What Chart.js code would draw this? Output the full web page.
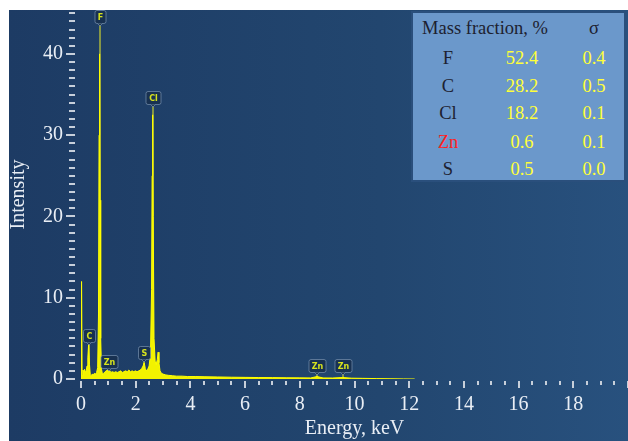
<!DOCTYPE html>
<html><head><meta charset="utf-8">
<script src="https://cdn.jsdelivr.net/npm/chart.js@4/dist/chart.umd.min.js"></script>
<style>
html,body{margin:0;padding:0;background:#fff;}
#wrap{position:relative;width:628px;height:441px;overflow:hidden;}
canvas{position:absolute;left:0;top:0;}
#tbl{position:absolute;left:411px;top:11px;width:211px;height:167px;background:#6b98cb;border:2px solid #2a4f7c;font-family:'Liberation Serif','Times New Roman',serif;font-size:18.5px;color:#1d2130;}
.c{position:absolute;transform:translate(-50%,-50%);white-space:nowrap;line-height:1;}
</style></head><body>
<div id="wrap"><canvas id="c" width="628" height="441"></canvas><div id="tbl"></div></div>
<script>
// ---- data ----
const energy = [0, 0.02, 0.04, 0.07, 0.10, 0.13, 0.16, 0.19, 0.22, 0.25, 0.28, 0.31, 0.34, 0.37, 0.41, 0.45, 0.49, 0.53, 0.57, 0.61, 0.64, 0.66, 0.68, 0.70, 0.72, 0.75, 0.79, 0.83, 0.88, 0.93, 0.98, 1.01, 1.04, 1.09, 1.15, 1.21, 1.27, 1.33, 1.39, 1.45, 1.51, 1.57, 1.63, 1.69, 1.75, 1.81, 1.87, 1.93, 1.99, 2.05, 2.11, 2.17, 2.22, 2.27, 2.31, 2.35, 2.39, 2.44, 2.49, 2.54, 2.58, 2.60, 2.62, 2.64, 2.67, 2.71, 2.75, 2.79, 2.82, 2.85, 2.89, 2.94, 3.0, 3.1, 3.2, 3.35, 3.5, 3.7, 3.9, 4.2, 4.5, 5.0, 5.5, 6.0, 6.5, 7.0, 7.5, 8.0, 8.4, 8.63, 8.85, 9.2, 9.57, 9.9, 10.3, 10.8, 11.3, 11.8, 12.2];
const intensity = [0, 12, 0.4, 1.1, 0.9, 1.2, 0.8, 1.0, 1.6, 2.6, 4.4, 1.8, 0.5, 0.4, 0.6, 0.5, 0.7, 0.6, 0.8, 1.4, 8, 30, 40, 22, 5, 1.2, 0.5, 0.7, 0.9, 1.0, 1.2, 1.3, 1.1, 0.8, 0.9, 0.8, 0.9, 0.8, 0.9, 1.0, 0.8, 0.9, 1.0, 0.9, 1.1, 0.9, 1.0, 0.9, 1.0, 0.9, 1.0, 1.1, 1.3, 1.6, 2.0, 1.3, 1.0, 1.2, 1.6, 3.0, 11, 25, 32.5, 20, 5, 2.2, 1.8, 2.4, 3.3, 2.0, 1.0, 0.7, 0.6, 0.5, 0.45, 0.4, 0.35, 0.35, 0.3, 0.3, 0.28, 0.25, 0.22, 0.2, 0.18, 0.17, 0.15, 0.14, 0.13, 0.3, 0.13, 0.12, 0.18, 0.1, 0.08, 0.05, 0.03, 0.01, 0];
const xTickLabels = [0, 2, 4, 6, 8, 10, 12, 14, 16, 18];
const yTickLabels = [0, 10, 20, 30, 40];
const peakNames = ['C', 'F', 'Zn', 'S', 'Cl', 'Zn', 'Zn'];
const peakEnergies = [0.28, 0.677, 1.01, 2.31, 2.62, 8.63, 9.57];
const peakLabelLevels = [4.6, 43.8, 1.4, 2.4, 33.8, 0.9, 0.9];
const tableElements = ['F', 'C', 'Cl', 'Zn', 'S'];
const tableMass = ['52.4', '28.2', '18.2', '0.6', '0.5'];
const tableSigma = ['0.4', '0.5', '0.1', '0.1', '0.0'];

// ---- table (HTML text) ----
const tbl = document.getElementById('tbl');
function addCell(txt, cx, cy, color) {
  const d = document.createElement('div');
  d.className = 'c'; d.textContent = txt;
  d.style.left = (cx - 413) + 'px'; d.style.top = (cy - 13) + 'px';
  if (color) d.style.color = color;
  tbl.appendChild(d);
}
addCell('Mass fraction, %', 485, 28);
addCell('σ', 594, 28);
const rowY = [58, 86, 113, 142, 169];
tableElements.forEach((el, i) => {
  addCell(el, 448, rowY[i], el === 'Zn' ? '#ff1f1f' : null);
  addCell(tableMass[i], 522, rowY[i], '#ffff3a');
  addCell(tableSigma[i], 594, rowY[i], '#ffff3a');
});

// ---- plugins ----
const bgPlugin = {
  id: 'bg',
  beforeDraw(chart) {
    const ctx = chart.ctx;
    ctx.save();
    ctx.fillStyle = '#ffffff';
    ctx.fillRect(0, 0, chart.width, chart.height);
    const g = ctx.createLinearGradient(9, 0, chart.width, 0);
    g.addColorStop(0, '#1d3b64');
    g.addColorStop(0.6, '#22466f');
    g.addColorStop(1, '#28517e');
    ctx.fillStyle = g;
    ctx.fillRect(9, 10, chart.width - 9, chart.height - 10);
    ctx.restore();
  }
};
const tickPlugin = {
  id: 'ticks',
  afterDraw(chart) {
    const ctx = chart.ctx, xs = chart.scales.x, ys = chart.scales.y;
    ctx.save();
    ctx.strokeStyle = '#c7cfda';
    ctx.lineWidth = 2;
    const yb = chart.chartArea.bottom;
    for (let v = 0; v <= 20; v += 0.5) {
      const px = Math.round(xs.getPixelForValue(v));
      const major = v % 2 === 0;
      ctx.beginPath(); ctx.moveTo(px, yb + 2); ctx.lineTo(px, yb + (major ? 9 : 6)); ctx.stroke();
    }
    for (let v = 0; v <= 45; v += 1) {
      const py = Math.round(ys.getPixelForValue(v));
      const major = v % 10 === 0;
      ctx.beginPath(); ctx.moveTo(major ? 66 : 69, py); ctx.lineTo(75, py); ctx.stroke();
    }
    ctx.restore();
  }
};
const peakPlugin = {
  id: 'peaks',
  beforeDatasetsDraw(chart) {
    const ctx = chart.ctx, xs = chart.scales.x, ys = chart.scales.y;
    ctx.save();
    ctx.strokeStyle = 'rgba(170,180,60,0.75)';
    ctx.lineWidth = 2;
    peakEnergies.forEach((e, i) => {
      const px = Math.round(xs.getPixelForValue(e));
      ctx.beginPath(); ctx.moveTo(px, ys.getPixelForValue(peakLabelLevels[i])); ctx.lineTo(px, ys.getPixelForValue(0)); ctx.stroke();
    });
    ctx.restore();
  },
  afterDatasetsDraw(chart) {
    const ctx = chart.ctx, xs = chart.scales.x, ys = chart.scales.y;
    ctx.save();
    ctx.font = 'bold 8px "DejaVu Sans"';
    peakNames.forEach((n, i) => {
      const px = Math.round(xs.getPixelForValue(peakEnergies[i]));
      const pb = Math.round(ys.getPixelForValue(peakLabelLevels[i]));
      const w = Math.round(ctx.measureText(n).width) + 6, h = 13;
      const x0 = px - w / 2, y0 = pb - h;
      ctx.fillStyle = 'rgba(24,48,80,0.95)';
      ctx.strokeStyle = 'rgba(120,145,175,0.7)';
      ctx.lineWidth = 1;
      ctx.beginPath();
      ctx.roundRect(x0 + 0.5, y0 + 0.5, w, h, 2);
      ctx.fill(); ctx.stroke();
      ctx.beginPath();
      ctx.moveTo(px - 2.5, y0 + h + 0.5); ctx.lineTo(px, y0 + h + 3); ctx.lineTo(px + 2.5, y0 + h + 0.5);
      ctx.fill(); ctx.stroke();
      ctx.fillStyle = '#d6e21e';
      ctx.textAlign = 'center'; ctx.textBaseline = 'middle';
      ctx.fillText(n, px + 0.5, y0 + h / 2 + 1);
    });
    ctx.restore();
  }
};

const fontSerif = { family: "'Liberation Serif', 'Times New Roman', serif", size: 20 };
const txtColor = '#e9eef5';

new Chart(document.getElementById('c'), {
  type: 'line',
  data: {
    datasets: [{
      data: energy.map((e, i) => ({ x: e, y: intensity[i] })),
      borderColor: '#ffff00',
      backgroundColor: '#f2f200',
      borderWidth: 1,
      fill: 'origin',
      pointRadius: 0,
      tension: 0
    }]
  },
  options: {
    responsive: false,
    animation: false,
    devicePixelRatio: 1,
    layout: { padding: { top: 10, left: 0, right: 0, bottom: 0 } },
    plugins: { legend: { display: false }, tooltip: { enabled: false } },
    scales: {
      x: {
        type: 'linear', min: 0, max: 20,
        afterBuildTicks: s => { s.ticks = xTickLabels.map(v => ({ value: v })); },
        afterFit: s => { s.height = 62; s.paddingLeft = 0; s.paddingRight = 0; },
        grid: { display: true, drawOnChartArea: false, drawTicks: true, tickLength: 9, color: 'rgba(0,0,0,0)' },
        border: { display: false },
        ticks: { autoSkip: false, maxRotation: 0, font: fontSerif, color: txtColor, padding: 5 },
        title: { display: true, text: 'Energy, keV', font: fontSerif, color: txtColor, padding: { top: 0, bottom: 0 } }
      },
      y: {
        type: 'linear', min: 0, max: 45.4,
        afterBuildTicks: s => { s.ticks = yTickLabels.map(v => ({ value: v })); },
        afterFit: s => { s.width = 81; s.paddingTop = 0; s.paddingBottom = 0; },
        grid: { display: true, drawOnChartArea: false, drawTicks: true, tickLength: 10, color: 'rgba(0,0,0,0)' },
        border: { display: false },
        ticks: { font: fontSerif, color: txtColor, padding: 8 },
        title: { display: true, text: 'Intensity', font: fontSerif, color: txtColor, padding: { top: 7, bottom: 0 } }
      }
    }
  },
  plugins: [bgPlugin, tickPlugin, peakPlugin]
});
</script>
</body></html>
